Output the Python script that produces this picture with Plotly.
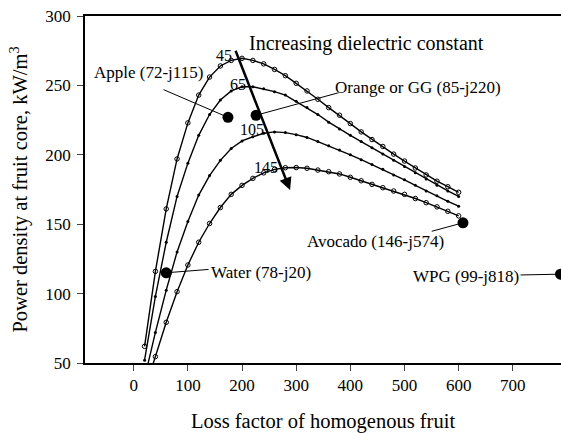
import plotly.graph_objects as go

# ---- data ----
loss_x = list(range(20, 601, 20))
curve_labels = ["45", "65", "105", "145"]
p45 = [62, 116, 161, 197, 223, 243, 256, 264, 268, 269.5, 268, 265.5, 261.5, 257, 251.5,
       246, 240, 234, 228.5, 222.5, 216.5, 211, 206, 200.5, 195.5, 190.5, 185.5, 181, 177, 173]
p65 = [52, 98, 137, 170, 194, 214, 229, 239.5, 246, 249, 249, 247.5, 245.5, 243, 238.5,
       234, 229, 223.5, 218.5, 214, 209.5, 205, 200.5, 196, 191.5, 187, 182.5, 178, 174, 170]
p105 = [39, 72, 102.5, 130, 152, 171, 185, 196, 204.5, 210, 213, 215.5, 216.5, 216, 214.5,
        212.5, 209.5, 206.5, 203.5, 200, 196.5, 193, 189.5, 185.5, 182, 178, 174, 170.5, 166.5, 163]
p145 = [30, 54.6, 79.3, 101.4, 120.6, 137, 150.5, 162, 171.5, 178, 183, 187, 189.5, 190.7, 190.8,
        190.3, 189, 187.8, 186.2, 183.8, 181.3, 178.7, 176.3, 173.9, 171.5, 168.5, 165.5, 162.5, 159.3, 156]

fruit_names = ["Apple (72-j115)", "Orange or GG (85-j220)", "Water (78-j20)",
               "Avocado (146-j574)", "WPG (99-j818)"]
fruit_x = [174, 226, 60, 608, 788]
fruit_y = [227, 228.5, 115, 151, 114]
# label centre positions and leader line start points (data units)
label_x = [26.4, 525, 235, 446.6, 613.8]
label_y = [259.6, 248.8, 115, 137.4, 112]
leader_x = [52.3, 381, 141, 547.5, 711.5]
leader_y = [247.4, 245, 117.5, 144.6, 113.4]

curve_lab_x = [166.8, 193, 218.5, 244]
curve_lab_y = [271.9, 250.3, 217.9, 190.7]

arrow_start = (187, 276)
arrow_end = (288.7, 174.6)

x_ticks = [0, 100, 200, 300, 400, 500, 600, 700]
y_ticks = [50, 100, 150, 200, 250, 300]

FONT = "Liberation Serif, Times New Roman, serif"

fig = go.Figure()
series = [p45, p65, p105, p145]
hollow = [True, False, False, True]
for lab, ys, h in zip(curve_labels, series, hollow):
    if h:
        mk = dict(symbol="circle-open", size=4.5, color="black", line=dict(width=1, color="black"))
    else:
        mk = dict(symbol="circle", size=3, color="black")
    fig.add_trace(go.Scatter(x=loss_x, y=ys, mode="lines+markers", name=lab,
                             line=dict(color="black", width=1.4), marker=mk,
                             showlegend=False))

fig.add_trace(go.Scatter(x=fruit_x, y=fruit_y, mode="markers",
                         marker=dict(size=11, color="black"), cliponaxis=False,
                         showlegend=False))

annotations = []
for nm, fx, fy, lx, ly, sx, sy in zip(fruit_names, fruit_x, fruit_y, label_x, label_y, leader_x, leader_y):
    annotations.append(dict(x=lx, y=ly, xref="x", yref="y", text=nm, showarrow=False,
                            font=dict(family=FONT, size=17, color="black")))
    annotations.append(dict(x=fx, y=fy, xref="x", yref="y", ax=sx, ay=sy, axref="x", ayref="y",
                            text="", showarrow=True, arrowhead=0, arrowwidth=1,
                            arrowcolor="black", standoff=0))
for lab, cx, cy in zip(curve_labels, curve_lab_x, curve_lab_y):
    annotations.append(dict(x=cx, y=cy, xref="x", yref="y", text=lab, showarrow=False,
                            font=dict(family=FONT, size=16, color="black")))
annotations.append(dict(x=430, y=280.3, xref="x", yref="y", text="Increasing dielectric constant",
                        showarrow=False, font=dict(family=FONT, size=20, color="black")))
annotations.append(dict(x=arrow_end[0], y=arrow_end[1], ax=arrow_start[0], ay=arrow_start[1],
                        xref="x", yref="y", axref="x", ayref="y", text="", showarrow=True,
                        arrowhead=2, arrowsize=1, arrowwidth=2.5, arrowcolor="black"))

fig.update_layout(
    width=561, height=433,
    margin=dict(l=85, r=0, t=16, b=70),
    paper_bgcolor="white", plot_bgcolor="white",
    font=dict(family=FONT, size=17, color="black"),
    annotations=annotations,
    xaxis=dict(range=[-90, 789], tickvals=x_ticks, ticks="outside", ticklen=6, tickwidth=1.3,
               showline=True, linecolor="black", linewidth=1.5, mirror=True, showgrid=False,
               zeroline=False, tickfont=dict(size=17),
               title=dict(text="Loss factor of homogenous fruit", font=dict(size=20.5), standoff=20)),
    yaxis=dict(range=[50, 300], tickvals=y_ticks, ticks="outside", ticklen=6, tickwidth=1.3,
               showline=True, linecolor="black", linewidth=1.5, showgrid=False, zeroline=False,
               tickfont=dict(size=17), ticklabelstandoff=3,
               title=dict(text="Power density at fruit core, kW/m<sup>3</sup>", font=dict(size=20.5),
                          standoff=12)),
)

fig.write_html("out.html")
